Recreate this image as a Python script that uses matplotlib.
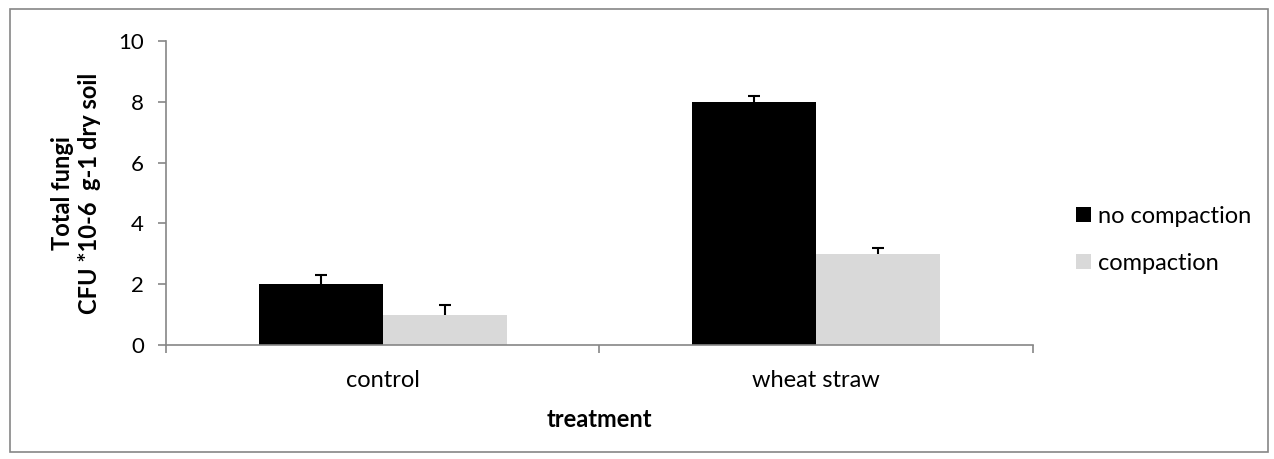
import matplotlib.pyplot as plt
import numpy as np
from matplotlib.patches import Rectangle

categories = ["control", "wheat straw"]
series_names = ["no compaction", "compaction"]
no_compaction = [2.0, 8.0]
compaction = [1.0, 3.0]
err_no_compaction = [0.3, 0.2]
err_compaction = [0.3, 0.2]

plt.rcParams['font.family'] = ['Lato', 'DejaVu Sans']
grey = "#868686"

fig = plt.figure(figsize=(12.74, 4.59), dpi=100)
ax = fig.add_axes([0.1303, 0.2484, 0.6805, 0.6623])

# outer chart border
fig.patches.append(Rectangle((0.008, 0.015), 0.987, 0.965, transform=fig.transFigure,
                             fill=False, edgecolor=grey, linewidth=1.2))

x = np.arange(len(categories))
w = 0.286
series = [(no_compaction, err_no_compaction, "black", -w / 2),
          (compaction, err_compaction, "#d9d9d9", w / 2)]
for (vals, errs, col, off), name in zip(series, series_names):
    vals = np.array(vals)
    errs = np.array(errs)
    ax.bar(x + off, vals, w, color=col, label=name, zorder=2)
    # upper error bar only
    ax.vlines(x + off, vals, vals + errs, color="black", linewidth=1.5, zorder=3)
    ax.plot(x + off, vals + errs, linestyle="none", marker="_", markersize=9,
            markeredgewidth=1.5, color="black", zorder=3)

ax.set_xlim(-0.5, 1.5)
ax.set_ylim(0, 10)
ax.set_yticks(range(0, 11, 2))
ax.set_xticks(x)
ax.set_xticklabels(categories, fontsize=17)
ax.set_xticks([-0.5, 0.5, 1.5], minor=True)
ax.tick_params(axis="x", which="major", length=0, pad=18)
ax.tick_params(axis="x", which="minor", length=6, color=grey, width=1.2)
ax.tick_params(axis="y", length=6, color=grey, width=1.2, labelsize=16, pad=10)

for s in ["top", "right"]:
    ax.spines[s].set_visible(False)
for s in ["left", "bottom"]:
    ax.spines[s].set_color(grey)
    ax.spines[s].set_linewidth(1.2)

ax.set_xlabel("treatment", fontsize=17, fontweight="bold", labelpad=12)
ax.set_ylabel("Total fungi\nCFU *10-6  g-1 dry soil", fontsize=17, fontweight="bold",
              labelpad=12, linespacing=1.25)

ax.legend(loc="center left", bbox_to_anchor=(1.025, 0.345), frameon=False, fontsize=17,
          handlelength=0.62, handleheight=0.62, handletextpad=0.3, labelspacing=1.1)

fig.savefig("out.png", dpi=100)
